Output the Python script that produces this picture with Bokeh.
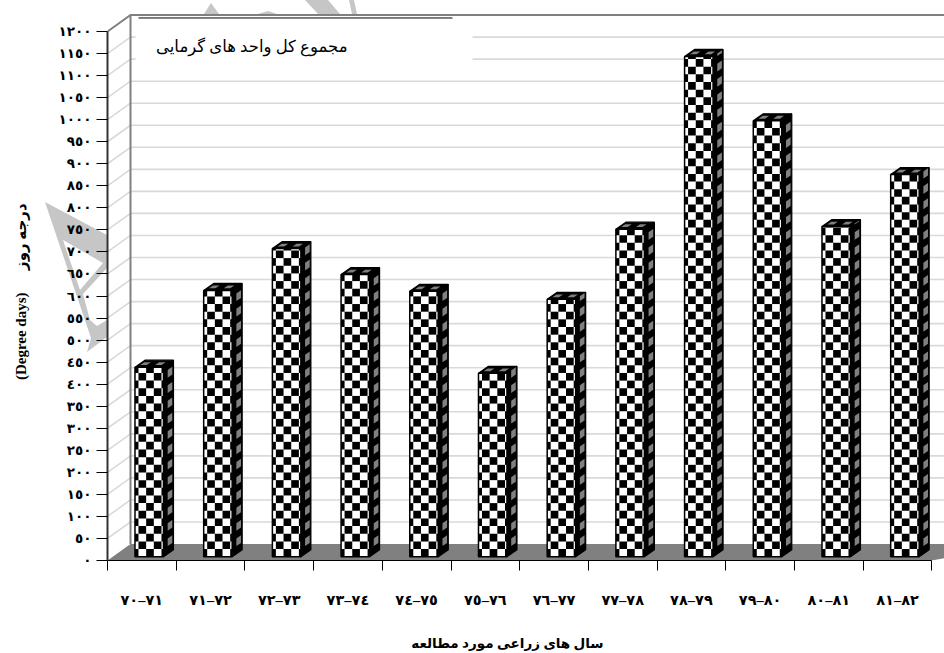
from urllib.parse import quote
from bokeh.plotting import figure
from bokeh.embed import file_html
from bokeh.resources import INLINE
from bokeh.models import Range1d, LinearAxis, FixedTicker, Label

# ---- data ----
LRO, PDF = "\u202d", "\u202c"
NB = "\u00a0"
seasons = ["٧٠–٧١", "٧١–٧٢", "٧٢–٧٣", "٧٣–٧٤", "٧٤–٧٥", "٧٥–٧٦",
           "٧٦–٧٧", "٧٧–٧٨", "٧٨–٧٩", "٧٩–٨٠", "٨٠–٨١", "٨١–٨٢"]
degree_days = [430, 604, 699, 640, 602, 416, 584, 743, 1135, 989, 749, 867]
y_ticks = list(range(0, 1201, 50))
y_tick_labels = ["٠", "٥٠", "١٠٠", "١٥٠", "٢٠٠", "٢٥٠", "٣٠٠", "٣٥٠", "٤٠٠", "٤٥٠", "٥٠٠", "٥٥٠",
                 "٦٠٠", "٦٥٠", "٧٠٠", "٧٥٠", "٨٠٠", "٨٥٠", "٩٠٠", "٩٥٠", "١٠٠٠", "١٠٥٠", "١١٠٠", "١١٥٠", "١٢٠٠"]
chart_title = "مجموع کل واحد های گرمایی"
x_title = "سال های زراعی مورد مطالعه" + NB * 11
y_title = "(Degree days)" + NB * 6 + "درجه روز" + NB * 6

# ---- layout ----
W, H = 944, 653
AX_L, AX_B = 107, 92
PX_X = 68.7          # px per category
PX_Y = 22.08 / 50    # px per value unit
FONT = "'Liberation Serif', 'DejaVu Sans'"
GRID = "#d9d9d9"
WALL = "#808080"

# watermark fragments behind the chart (page background, outside the plot frame)
WM = "#c6c6c6"
wm_polys = [
    "45,202 107,235 107,268 83,294 90,320 97,326 107,320 107,337 87,352 91,338 68,270",
    "204,14 211,3 219,14",
    "258,14 268,11 277,14",
    "305,0 328,0 340,14 318,14",
    "349,0 354,0 357,14 352,14",
]
svg = (f"<svg xmlns='http://www.w3.org/2000/svg' width='{W}' height='{H}'>"
       + "".join(f"<polygon points='{pts}' fill='{WM}'/>" for pts in wm_polys)
       + "<polygon points='63,240 103,263 80,290' fill='white'/></svg>")

x_end = (W - AX_L) / PX_X
y_end = (H - AX_B) / PX_Y
p = figure(width=W, height=H, output_backend="svg", toolbar_location=None,
           x_range=Range1d(0, x_end), y_range=Range1d(0, y_end),
           x_axis_type=None, y_axis_type=None, outline_line_color=None,
           background_fill_color=None, border_fill_color=None,
           min_border_left=AX_L, min_border_bottom=AX_B, min_border_top=0, min_border_right=0,
           margin=(0, 0, 0, 0),
           styles={"background": "url(\"data:image/svg+xml," + quote(svg) + "\") no-repeat 0 0"})
p.grid.visible = False

def dx(px):
    return px / PX_X
def dy(px):
    return px / PX_Y
def X(px):
    return (px - AX_L) / PX_X
def Y(py):
    return (H - AX_B - py) / PX_Y

# 3-D room
wx, wy = dx(23), dy(16.5)
n = len(seasons)
rx = X(W + 4)
p.patch([0, wx, rx + 1, n], [0, wy, wy, 0], fill_color=WALL, line_color=None)
p.multi_line([[0, wx, rx] for v in y_ticks[1:]],
             [[v, v + wy, v + wy] for v in y_ticks[1:]], line_color=GRID, line_width=1.6)
p.line([wx, wx], [wy, 1200 + wy], line_color=WALL, line_width=2)
p.line([0, wx, rx], [1200, 1200 + wy, 1200 + wy], line_color=WALL, line_width=2)

# title box
p.quad(left=[X(135)], right=[X(472)], bottom=[Y(70)], top=[Y(18)], fill_color="white", line_color=None)
p.line([X(138), X(452)], [Y(17.5), Y(17.5)], line_color="black", line_width=1)
p.add_layout(Label(x=347, y=46, x_units="canvas", y_units="canvas", text=chart_title, text_align="right",
                   text_baseline="middle", text_font=FONT, text_font_size="16.5px", text_color="black"))

# checker bars
cell = 7.67
cw, ch = dx(cell), dy(cell)
bw = dx(28.5)
sx, sy = dx(10), dy(7)
b0 = dy(3.8)
first = dx(3.5)
wl, wr, wb, wt = [], [], [], []
kl, kr, kb, kt = [], [], [], []
side_x, side_y, gray_x, gray_y = [], [], [], []
for i, v in enumerate(degree_days):
    xl = i + 0.4
    xr = xl + bw
    top = b0 + v
    wl.append(xl); wr.append(xr); wb.append(b0); wt.append(top)
    r = 0
    while b0 + r * ch < top:
        v0 = b0 + r * ch
        v1 = min(top, v0 + ch)
        for c in range(0, 6):
            c0 = xl if c == 0 else xl + first + (c - 1) * cw
            c1 = xl + first + c * cw
            c1 = min(c1, xr)
            if c0 < xr and (r + c) % 2 == 0:
                kl.append(c0); kr.append(c1); kb.append(v0); kt.append(v1)
        if r % 2 == 1:
            u0, u1 = 0.42, 0.88
            gray_x.append([xr + u0 * sx, xr + u1 * sx, xr + u1 * sx, xr + u0 * sx])
            gray_y.append([v0 + u0 * sy, v0 + u1 * sy, v1 + u1 * sy, v1 + u0 * sy])
        r += 1
    side_x.append([xr, xr + sx, xr + sx, xr])
    side_y.append([b0, b0 + sy, top + sy, top])
    side_x.append([xl, xr, xr + sx, xl + sx])
    side_y.append([top, top, top + sy, top + sy])
    for f0, f1 in ((0.08, 0.31), (0.6, 0.83)):
        u0, u1 = 0.3, 0.7
        gray_x.append([xl + f0 * bw + u0 * sx, xl + f1 * bw + u0 * sx, xl + f1 * bw + u1 * sx, xl + f0 * bw + u1 * sx])
        gray_y.append([top + u0 * sy, top + u0 * sy, top + u1 * sy, top + u1 * sy])

p.patches(side_x, side_y, fill_color="black", line_color="black", line_width=1.2)
p.patches(gray_x, gray_y, fill_color=WALL, line_color=None)
p.quad(left=wl, right=wr, bottom=wb, top=wt, fill_color="white", line_color=None)
p.quad(left=kl, right=kr, bottom=kb, top=kt, fill_color="black", line_color=None)
p.quad(left=wl, right=wr, bottom=wb, top=wt, fill_color=None, line_color="black", line_width=1.5)

# axes
yaxis = LinearAxis(ticker=FixedTicker(ticks=y_ticks), bounds=(0, 1200),
                   major_label_overrides={t: LRO + s + PDF for t, s in zip(y_ticks, y_tick_labels)},
                   major_tick_in=0, major_tick_out=11, minor_tick_line_color=None,
                   major_tick_line_color="black", axis_line_color="#333333", axis_line_width=2,
                   major_label_standoff=5, major_label_text_font=FONT, major_label_text_font_size="13.5px",
                   major_label_text_font_style="bold", major_label_text_color="black",
                   axis_label=y_title, axis_label_text_font=FONT, axis_label_text_font_size="15px",
                   axis_label_text_font_style="bold", axis_label_text_color="black", axis_label_standoff=27)
p.add_layout(yaxis, "left")

mid = [i + 0.5 for i in range(n)]
xaxis = LinearAxis(ticker=FixedTicker(ticks=mid, minor_ticks=list(range(n + 1))), bounds=(0, n),
                   major_label_overrides={t: LRO + s + PDF for t, s in zip(mid, seasons)},
                   major_tick_line_color=None, major_tick_in=0, major_tick_out=0,
                   minor_tick_in=0, minor_tick_out=10, minor_tick_line_color="black",
                   axis_line_color="black", axis_line_width=1,
                   major_label_standoff=21, major_label_text_font=FONT, major_label_text_font_size="14.5px",
                   major_label_text_font_style="bold", major_label_text_color="black")
p.add_layout(xaxis, "below")

title_axis = LinearAxis(ticker=FixedTicker(ticks=[]),
                        axis_line_color=None, major_tick_line_color=None, minor_tick_line_color=None,
                        major_tick_in=0, major_tick_out=0, major_label_text_color=None,
                        axis_label=x_title, axis_label_text_font=FONT, axis_label_text_font_size="13.5px",
                        axis_label_text_font_style="bold", axis_label_text_color="black", axis_label_standoff=25)
p.add_layout(title_axis, "below")

open("out.html", "w").write(file_html(p, INLINE))
